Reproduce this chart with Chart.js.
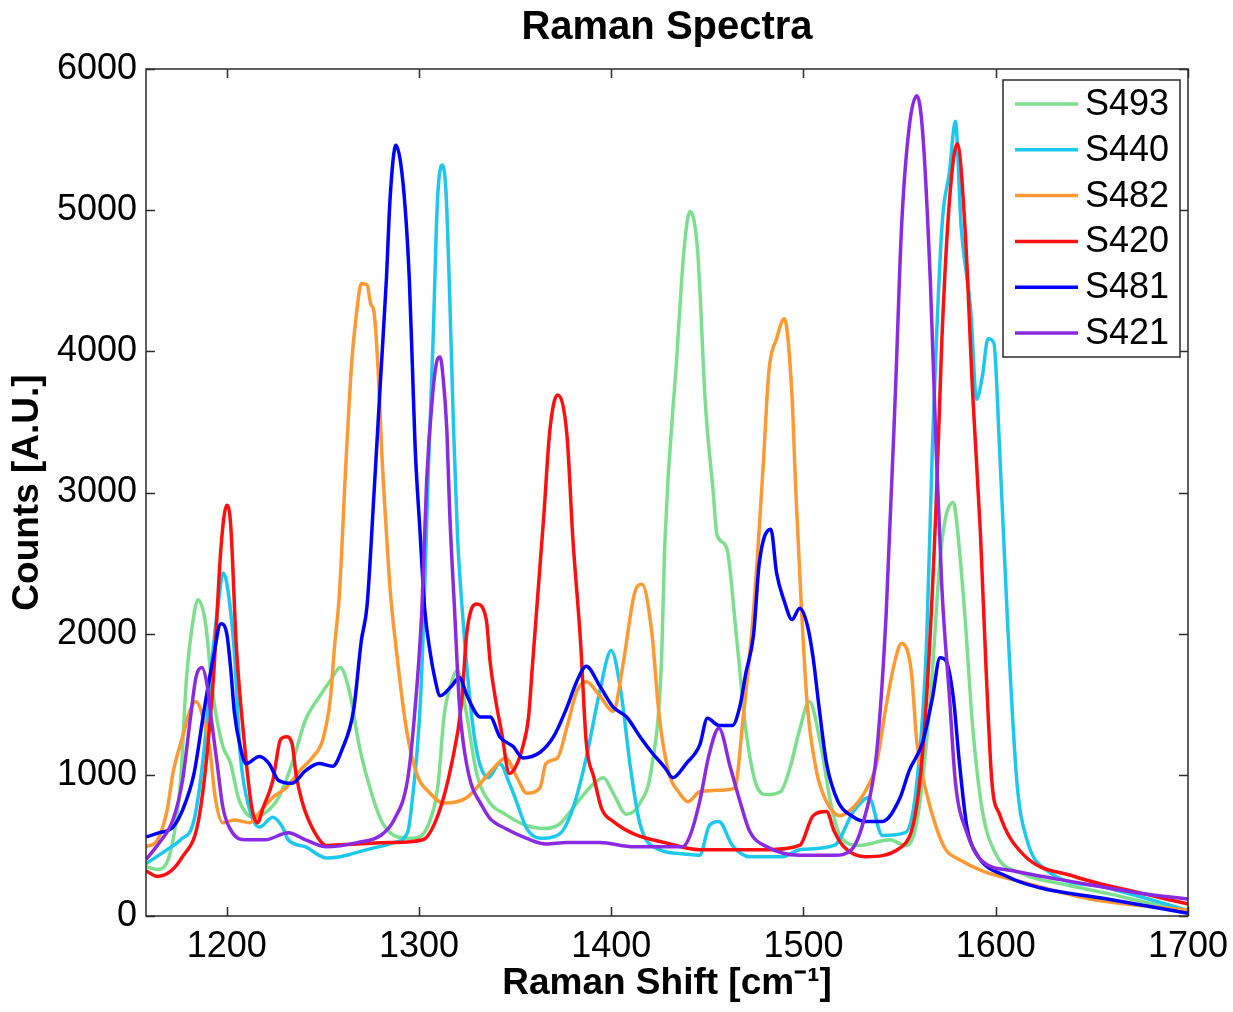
<!DOCTYPE html>
<html>
<head>
<meta charset="utf-8">
<title>Raman Spectra</title>
<script src="https://cdn.jsdelivr.net/npm/chart.js@4.4.1/dist/chart.umd.min.js"></script>
<style>
    html, body { margin: 0; padding: 0; background: #fff; }
    #wrap { width: 1233px; height: 1012px; }
</style>
</head>
<body>
<div id="wrap"><canvas id="ramanChart" width="1233" height="1012"></canvas></div>
<script>
// --- data ---
const chartTitle = 'Raman Spectra';
const seriesNames = ['S493', 'S440', 'S482', 'S420', 'S481', 'S421'];
const seriesColors = ['#7ddf8e', '#1ec8ec', '#ff9933', '#ff1010', '#0000ff', '#8a2be2'];

const s493X = [1158,1164,1171,1176,1179,1183,1185,1189,1192,1194,1198,1202,1206,1210,1214,1220,1227,1234,1241,1248,1254,1259,1264,1269,1276,1281,1289,1297,1305,1310,1313,1317,1320,1325,1330,1337,1345,1354,1364,1373,1382,1391,1396,1401,1408,1415,1421,1426,1428,1434,1438,1441,1445,1449,1453,1455,1460,1465,1470,1476,1481,1488,1493,1498,1503,1509,1514,1519,1529,1545,1553,1559,1566,1571,1574,1578,1580,1584,1588,1593,1600,1614,1637,1658,1677,1700];
const s493Y = [350,330,470,960,1670,2140,2240,2070,1670,1460,1200,1080,840,730,700,730,840,1080,1390,1550,1670,1760,1580,1200,840,660,560,550,650,940,1410,1660,1740,1410,1010,800,720,650,620,650,800,940,980,870,720,800,1050,1770,2680,3940,4740,4990,4700,3620,3010,2700,2610,2000,1320,910,860,880,1050,1320,1520,1210,810,570,500,540,500,670,1540,2520,2830,2930,2750,2120,1340,750,440,300,220,160,100,40];

const s440X = [1158,1169,1176,1183,1188,1193,1196,1198,1200,1204,1207,1212,1217,1224,1229,1232,1241,1252,1259,1273,1287,1294,1296,1301,1305,1307.5,1309,1310,1312,1314,1316,1318,1320,1322.5,1326,1329,1332,1336,1342,1347,1351,1356,1363,1373,1380,1387,1394,1400,1405,1410,1415,1425,1438,1446,1451,1456,1463,1472,1489,1498,1516,1526,1534,1541,1553,1559,1564,1567,1572,1576,1579,1582,1587,1590,1593,1596,1599,1602,1606,1611,1616,1627,1658,1700];
const s440Y = [370,470,540,680,1150,1900,2260,2430,2360,1860,1150,750,630,700,630,540,490,410,420,470,520,590,760,1590,3210,4150,4860,5160,5320,5140,4380,3440,2700,2170,1600,1250,1060,980,1080,940,800,620,550,580,760,1120,1590,1880,1590,1050,650,470,440,430,640,670,500,420,420,470,500,740,840,570,590,950,1930,3300,4880,5280,5630,4880,4290,3660,3820,4090,4060,3310,2120,950,550,320,200,40];

const s482X = [1158,1164,1169,1172,1177,1181,1184,1187,1191,1194,1198,1204,1212,1218,1224,1231,1238,1245,1250,1254,1256,1258.5,1262,1265,1267.5,1270,1273,1275,1276.5,1279,1280.5,1283,1285,1288,1293.5,1299,1305,1313,1325,1332,1339,1345,1351,1356,1363,1366,1372,1377,1382,1387,1394,1401,1406,1412,1416,1421,1425,1430,1435,1440,1446,1454,1463,1465,1468,1474,1479,1482,1486,1490,1494,1496,1499,1502,1507,1512,1519,1526,1532,1538,1543,1548,1551,1556,1559,1564,1569,1574,1581,1593,1614,1649,1700];
const s482Y = [490,540,750,1010,1270,1460,1520,1440,1200,840,660,680,660,750,840,910,1030,1130,1250,1550,1900,2260,3210,3920,4270,4480,4470,4330,4290,3800,3320,2730,2310,1910,1320,1000,880,800,840,940,1050,1120,980,870,910,1080,1120,1340,1590,1660,1560,1450,1770,2280,2350,2020,1410,1010,880,810,880,890,900,940,1320,2160,3180,3860,4090,4230,3690,3010,2160,1490,1010,810,710,770,880,1080,1490,1830,1930,1740,1230,870,630,470,400,320,240,120,40];

const s420X = [1158,1164,1177,1186,1193,1197,1200,1202,1205,1209,1213,1216,1219,1224,1228,1231,1234,1236,1239,1245,1252,1268,1285,1302,1310,1317,1322,1325,1330,1335,1337,1340,1343,1347,1350,1354,1357,1359,1363,1365,1368,1372,1377,1380,1384,1387,1391,1395,1401,1412,1428,1446,1463,1481,1498,1505,1512,1516,1521,1532,1550,1559,1564,1569,1572,1576,1580,1584,1588,1592,1595,1598,1602,1614,1641,1676,1700];
const s420Y = [320,280,420,730,1670,2610,2910,2780,1910,1250,770,660,770,960,1250,1270,1220,1010,820,610,500,510,520,540,720,1080,1490,2020,2210,2100,1800,1520,1300,1010,1050,1200,1410,1770,2490,2850,3430,3690,3400,2680,1950,1230,980,760,670,580,520,470,470,470,500,710,740,600,490,420,480,790,1540,2920,4090,5080,5470,4880,3700,2720,1740,950,720,440,280,160,85];

const s481X = [1158,1165,1172,1177,1183,1188,1193,1197,1200,1202,1204,1207,1210,1217,1222,1227,1234,1241,1248,1255,1260,1266,1270,1273,1276.5,1280,1283,1285,1288,1290.5,1293,1295,1296.5,1298,1300.5,1303,1306,1308,1311,1317,1321,1325,1332,1337,1342,1349,1354,1363,1370,1377,1382,1387,1394,1401,1408,1415,1421,1428,1432,1439,1446,1450,1456,1463,1467,1470,1474,1477,1483,1486,1490,1494,1498,1502,1505,1508,1512,1518,1525,1532,1541,1550,1555,1562,1567,1571,1574,1578,1581,1585,1590,1606,1623,1658,1700];
const s481Y = [560,590,630,750,1010,1440,1830,2070,2000,1760,1440,1200,1080,1130,1080,960,940,1030,1080,1060,1180,1460,1950,2200,2970,3800,4500,5090,5460,5330,4980,4500,3920,3320,2730,2170,1850,1700,1560,1630,1690,1560,1410,1410,1270,1200,1120,1160,1270,1480,1660,1770,1630,1480,1410,1270,1160,1050,980,1080,1210,1400,1350,1350,1490,1720,1990,2500,2740,2430,2230,2100,2180,2060,1830,1490,1080,810,710,670,670,830,1030,1230,1540,1830,1810,1540,1100,630,440,280,200,120,20];

const s421X = [1158,1165,1172,1177,1181,1184,1187,1190,1192,1195,1198,1203,1210,1220,1232,1241,1252,1268,1280,1287,1294,1297,1301.5,1304,1307,1309.5,1311,1312.5,1314.5,1316,1318.5,1321,1323,1327,1332,1337,1345,1356,1366,1377,1394,1412,1428,1437,1441,1446,1451,1456,1462,1467,1472,1481,1498,1516,1525,1532,1538,1543,1548,1551,1555,1559,1562,1566,1569,1572,1576,1579,1585,1592,1609,1641,1676,1700];
const s421Y = [400,520,680,960,1390,1690,1760,1620,1390,1080,770,590,540,540,590,540,490,520,570,680,960,1320,2170,3090,3680,3940,3960,3820,3440,2850,2170,1500,1230,940,800,690,620,550,510,520,520,490,490,490,570,810,1150,1330,1050,810,600,490,430,430,470,710,1150,2140,3780,4880,5590,5810,5550,4490,3310,2320,1540,950,590,400,320,240,160,120];

const seriesX = [s493X, s440X, s482X, s420X, s481X, s421X];
const seriesY = [s493Y, s440Y, s482Y, s420Y, s481Y, s421Y];

const xMin = 1158;
const xMax = 1700;
const xStep = 100;
const yMin = 0;
const yMax = 6000;
const yStep = 1000;

const FONT = "'Liberation Sans', Arial, Helvetica, sans-serif";

// --- datasets ---
const datasets = seriesNames.map((name, i) => ({
    label: name,
    data: seriesX[i].map((x, j) => ({ x: x, y: seriesY[i][j] })),
    borderColor: seriesColors[i],
    backgroundColor: seriesColors[i],
    borderWidth: 3.5,
    borderJoinStyle: 'round',
    pointRadius: 0,
    cubicInterpolationMode: 'monotone',
    order: seriesNames.length - i   // later series on top, like matlab
}));

// --- matlab style title, box, inward ticks and legend ---
const matlabBox = {
    id: 'matlabBox',
    afterDraw(chart) {
        const ctx = chart.ctx;
        const area = chart.chartArea;
        const xs = chart.scales.x;
        const ys = chart.scales.y;
        const tick = 9;

        ctx.save();
        // title, centred over the axes like matlab does
        ctx.fillStyle = '#000';
        ctx.font = 'bold 40px ' + FONT;
        ctx.textAlign = 'center';
        ctx.textBaseline = 'middle';
        ctx.fillText(chartTitle, (area.left + area.right) / 2, 28);

        ctx.strokeStyle = '#2b2b2b';
        ctx.lineWidth = 1.5;
        ctx.strokeRect(area.left, area.top, area.right - area.left, area.bottom - area.top);

        ctx.beginPath();
        xs.ticks.forEach(t => {
            const px = Math.round(xs.getPixelForValue(t.value)) + 0.5;
            ctx.moveTo(px, area.bottom); ctx.lineTo(px, area.bottom - tick);
            ctx.moveTo(px, area.top); ctx.lineTo(px, area.top + tick);
        });
        ys.ticks.forEach(t => {
            const py = Math.round(ys.getPixelForValue(t.value)) + 0.5;
            ctx.moveTo(area.left, py); ctx.lineTo(area.left + tick, py);
            ctx.moveTo(area.right, py); ctx.lineTo(area.right - tick, py);
        });
        ctx.stroke();

        // legend
        const boxW = 177, boxH = 277;
        const bx = area.right - 8 - boxW;
        const by = area.top + 11;
        ctx.fillStyle = '#fff';
        ctx.fillRect(bx, by, boxW, boxH);
        ctx.strokeStyle = '#2b2b2b';
        ctx.lineWidth = 1.5;
        ctx.strokeRect(bx, by, boxW, boxH);

        ctx.font = '36px ' + FONT;
        ctx.textBaseline = 'middle';
        ctx.textAlign = 'left';
        chart.data.datasets.forEach((ds, i) => {
            const cy = by + 24 + i * 45.8;
            ctx.strokeStyle = ds.borderColor;
            ctx.lineWidth = 3.5;
            ctx.beginPath();
            ctx.moveTo(bx + 12, cy);
            ctx.lineTo(bx + 75, cy);
            ctx.stroke();
            ctx.fillStyle = '#000';
            ctx.fillText(ds.label, bx + 82, cy + 1);
        });
        ctx.restore();
    }
};

const ctx = document.getElementById('ramanChart').getContext('2d');
const ramanChart = new Chart(ctx, {
    type: 'line',
    data: { datasets: datasets },
    options: {
        responsive: false,
        animation: false,
        devicePixelRatio: 1,
        layout: { padding: { left: 0, right: 45, top: 69, bottom: 0 } },
        plugins: {
            legend: { display: false },
            tooltip: { enabled: false },
            title: { display: false }
        },
        scales: {
            x: {
                type: 'linear',
                min: xMin,
                max: xMax,
                afterFit: s => { s.height = 96; s.paddingRight = 40; },
                grid: { display: false, drawTicks: false },
                border: { display: false },
                ticks: {
                    stepSize: xStep,
                    includeBounds: false,
                    autoSkip: false,
                    maxRotation: 0,
                    padding: 9,
                    color: '#000',
                    font: { family: FONT, size: 36 },
                    callback: v => String(v)
                },
                title: {
                    display: true,
                    text: 'Raman Shift [cm\u207B\u00B9]',
                    color: '#000',
                    font: { family: FONT, size: 37, weight: 'bold' },
                    padding: { top: 0, bottom: 6 }
                }
            },
            y: {
                type: 'linear',
                min: yMin,
                max: yMax,
                afterFit: s => { s.width = 146; },
                grid: { display: false, drawTicks: false },
                border: { display: false },
                ticks: {
                    stepSize: yStep,
                    padding: 9,
                    color: '#000',
                    font: { family: FONT, size: 36 },
                    callback: v => String(v)
                },
                title: {
                    display: true,
                    text: 'Counts [A.U.]',
                    color: '#000',
                    font: { family: FONT, size: 37, weight: 'bold' },
                    padding: { top: 6, bottom: 0 }
                }
            }
        }
    },
    plugins: [matlabBox]
});
</script>
</body>
</html>
